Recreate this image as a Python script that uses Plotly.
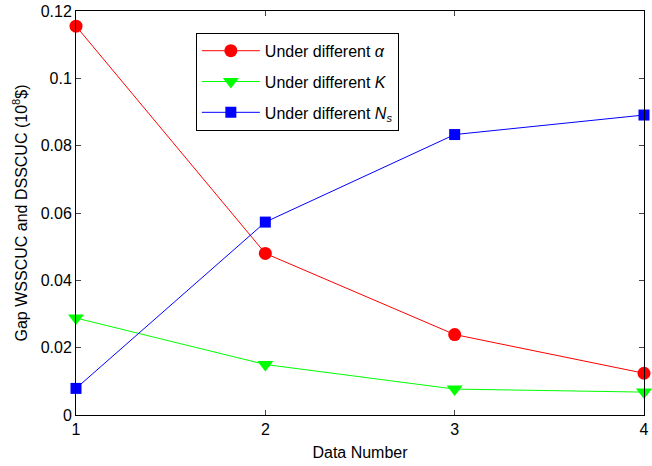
import plotly.graph_objects as go

x_vals = [1, 2, 3, 4]
alpha_vals = [0.1155, 0.048, 0.0239, 0.0124]
k_vals = [0.0288, 0.0150, 0.0077, 0.0068]
ns_vals = [0.0079, 0.0573, 0.0833, 0.0891]
y_ticks = [0, 0.02, 0.04, 0.06, 0.08, 0.1, 0.12]
y_tick_text = ["0", "0.02", "0.04", "0.06", "0.08", "0.1", "0.12"]

FONT = "Liberation Sans, Arial, sans-serif"

fig = go.Figure()
fig.add_trace(go.Scatter(x=x_vals, y=alpha_vals, mode="lines+markers",
                         name="Under different <i>α</i>", legendgroup="a",
                         cliponaxis=False,
                         line=dict(color="#ff0000", width=1),
                         marker=dict(symbol="circle", size=13, color="#ff0000")))
fig.add_trace(go.Scatter(x=x_vals, y=k_vals, mode="lines+markers",
                         name="Under different <i>K</i>", legendgroup="k",
                         cliponaxis=False,
                         line=dict(color="#00ff00", width=1),
                         marker=dict(symbol="triangle-down", size=14, color="#00ff00")))
fig.add_trace(go.Scatter(x=x_vals, y=ns_vals, mode="lines+markers",
                         name="Under different <i>N<sub>s</sub></i>", legendgroup="n",
                         cliponaxis=False,
                         line=dict(color="#0000ff", width=1),
                         marker=dict(symbol="square", size=11, color="#0000ff")))

fig.update_layout(
    width=652, height=466,
    margin=dict(l=76, r=3, t=8, b=51),
    paper_bgcolor="white", plot_bgcolor="white",
    font=dict(family=FONT, size=16, color="black"),
    showlegend=True,
    legend=dict(x=0.211, y=0.946, xanchor="left", yanchor="top",
                bordercolor="black", borderwidth=1, bgcolor="white",
                font=dict(size=16, family=FONT), tracegroupgap=7,
                itemwidth=58),
    xaxis=dict(range=[1, 4], tickvals=[1, 2, 3, 4], ticks="inside", ticklen=5,
               showline=True, linecolor="black", linewidth=1, mirror="allticks",
               showgrid=False, zeroline=False, ticklabeloverflow="allow",
               title=dict(text="Data Number", standoff=9, font=dict(size=16)),
               tickfont=dict(size=16)),
    yaxis=dict(range=[0, 0.12], tickvals=y_ticks, ticktext=y_tick_text, ticks="inside",
               ticklen=5, showline=True, linecolor="black", linewidth=1, mirror="allticks",
               showgrid=False, zeroline=False, ticklabeloverflow="allow",
               title=dict(text="Gap WSSCUC and DSSCUC (10<sup>8</sup>$)", standoff=9,
                          font=dict(size=16)),
               tickfont=dict(size=16)),
)

fig.write_html("out.html", config={"displayModeBar": False},
               post_script="document.body.style.margin='0';document.body.style.overflow='hidden';")
